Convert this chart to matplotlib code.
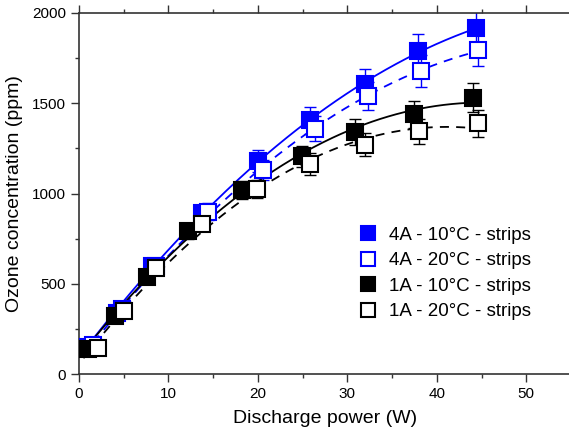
import numpy as np
import matplotlib.pyplot as plt
from matplotlib.ticker import MultipleLocator

plt.rcParams['font.family'] = ['Liberation Sans', 'DejaVu Sans']

# discharge power (W) and ozone concentration (ppm) per series
p_4a_10 = [0.8, 4.2, 8.2, 13.8, 20.0, 25.8, 32.0, 37.9, 44.4]
o3_4a_10 = [150, 340, 600, 890, 1180, 1405, 1605, 1790, 1915]
err_4a_10 = [20, 25, 35, 45, 60, 75, 85, 95, 90]

p_4a_20 = [1.6, 4.8, 8.6, 14.4, 20.6, 26.4, 32.3, 38.2, 44.6]
o3_4a_20 = [160, 360, 600, 900, 1130, 1360, 1540, 1680, 1795]
err_4a_20 = [20, 25, 35, 45, 55, 70, 80, 90, 90]

p_1a_10 = [1.0, 4.0, 7.6, 12.2, 18.2, 24.9, 30.9, 37.4, 44.1]
o3_1a_10 = [140, 320, 540, 790, 1020, 1205, 1340, 1440, 1530]
err_1a_10 = [20, 25, 30, 40, 50, 60, 70, 75, 80]

p_1a_20 = [2.1, 5.0, 8.6, 13.8, 19.9, 25.8, 32.0, 38.0, 44.6]
o3_1a_20 = [145, 350, 590, 830, 1025, 1165, 1270, 1345, 1390]
err_1a_20 = [20, 25, 30, 40, 50, 60, 65, 70, 75]

labels = ['4A - 10°C - strips', '4A - 20°C - strips',
          '1A - 10°C - strips', '1A - 20°C - strips']

fig = plt.figure(figsize=(5.69, 4.38), dpi=100)
ax = fig.add_axes([79 / 569, 64 / 438, 492 / 569, 361 / 438])

series = [
    (p_4a_10, o3_4a_10, err_4a_10, 'blue', True, '-'),
    (p_4a_20, o3_4a_20, err_4a_20, 'blue', False, '--'),
    (p_1a_10, o3_1a_10, err_1a_10, 'black', True, '-'),
    (p_1a_20, o3_1a_20, err_1a_20, 'black', False, '--'),
]

xfit = np.linspace(0.5, 44.8, 200)
handles = []
for (x, y, e, c, filled, ls), lab in zip(series, labels):
    # quadratic fit drawn behind the markers
    coef = np.polyfit(x, y, 2)
    ax.plot(xfit, np.polyval(coef, xfit), color=c, lw=1.3, ls=ls,
            dashes=(5, 4) if ls == '--' else (None, None), zorder=1)
    ax.errorbar(x, y, yerr=e, fmt='none', ecolor=c, elinewidth=1.0,
                capsize=4, capthick=1.0, zorder=2)
    h, = ax.plot(x, y, ls='none', marker='s', ms=12,
                 mfc=c if filled else 'white', mec=c, mew=1.5,
                 label=lab, zorder=3)
    handles.append(h)

ax.set_xlim(0, 55)
ax.set_ylim(0, 2000)
ax.xaxis.set_major_locator(MultipleLocator(10))
ax.xaxis.set_minor_locator(MultipleLocator(5))
ax.yaxis.set_major_locator(MultipleLocator(500))
ax.yaxis.set_minor_locator(MultipleLocator(250))
ax.tick_params(which='both', direction='out', labelsize=11, color='#333333')
ax.tick_params(which='major', length=6, width=1)
ax.tick_params(which='minor', length=3, width=1)
ax.tick_params(axis='x', which='both', top=True, labeltop=False)
for s in ax.spines.values():
    s.set_color('#333333')
    s.set_linewidth(1.2)

ax.set_xlabel('Discharge power (W)', fontsize=14, labelpad=6)
ax.set_ylabel('Ozone concentration (ppm)', fontsize=14, labelpad=6)

ax.legend(handles=handles, loc='upper left', bbox_to_anchor=(0.535, 0.455),
          frameon=False, fontsize=13.5, handlelength=1.0, handletextpad=0.6,
          labelspacing=0.45, markerscale=0.8)

fig.savefig('out.png', dpi=100)
